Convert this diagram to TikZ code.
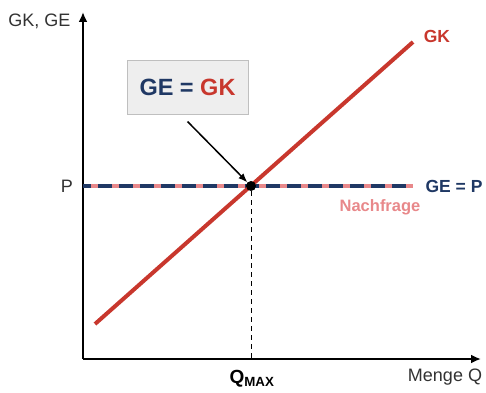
\documentclass[tikz,border=0pt]{standalone}
\usepackage{fontspec}
\setmainfont{Liberation Sans}
\usetikzlibrary{arrows.meta,positioning,calc}
\definecolor{gkred}{RGB}{200,55,45}
\definecolor{genavy}{RGB}{31,56,100}
\definecolor{nfpink}{RGB}{232,136,138}
\definecolor{axgray}{RGB}{50,50,50}
\definecolor{boxgray}{RGB}{238,238,238}

\tikzset{
  axis/.style={line width=2pt, draw=black, -{Latex[length=10pt,width=9pt]}},
  axlabel/.style={text=axgray, font=\fontsize{18}{21}\selectfont},
  bold/.style={font=\fontsize{17.5}{21}\selectfont\bfseries}
}

\begin{document}
\begin{tikzpicture}[x=1pt, y=1pt]
    \useasboundingbox (0,0) rectangle (486,392);

    % Axes
    \coordinate (O) at (83,33);
    \coordinate (ytop) at (83,380);
    \coordinate (xend) at (481,33);
    \draw[axis] (O) -- (ytop);
    \draw[axis] (O) -- (xend);
    \node[axlabel, anchor=east] (ylab) at (74,371) {GK, GE};
    \node[axlabel] (xlab) at (445,15) {Menge Q};

    % Price level (demand)
    \coordinate (pleft) at (83,206);
    \coordinate (pright) at (413,206);
    \draw[line width=4pt, nfpink] (pleft) -- (pright);
    \draw[line width=4pt, genavy, dash pattern=on 14pt off 7pt, dash phase=-15pt] (pleft) -- (pright);
    \node[axlabel] (plab) at (67,206) {P};
    \node[bold, genavy, anchor=west] (gep) at (422,206) {GE = P};
    \node[nfpink, font=\fontsize{16.5}{19}\selectfont\bfseries] (nf) at (380,185) {Nachfrage};

    % Cost line
    \coordinate (gkstart) at (95,68);
    \coordinate (gkend) at (413,350);
    \draw[line width=4pt, gkred] (gkstart) -- (gkend);
    \node[bold, gkred] (gk) at (437,356) {GK};

    % Optimum
    \node[circle, fill=black, inner sep=0pt, minimum size=10pt] (dot) at (251,206) {};
    \coordinate (qfoot) at (251,33);
    \draw[line width=1pt, dash pattern=on 5pt off 4pt] (dot) -- (qfoot);
    \node[text=black, font=\fontsize{19}{22}\selectfont\bfseries] (qmax) at (252,13) {Q\textsubscript{MAX}};

    % Box
    \node[draw=black!25, fill=boxgray, line width=1pt, minimum width=121pt, minimum height=54pt,
          font=\fontsize{23.5}{27}\selectfont\bfseries] (box) at (187.5,305)
          {\textcolor{genavy}{GE =} \textcolor{gkred}{GK}};
    \coordinate (arrstart) at ([yshift=-7pt]box.south);
    \draw[line width=1.5pt, -{Latex[length=9pt,width=7pt]}] (arrstart) -- (dot);
\end{tikzpicture}
\end{document}
